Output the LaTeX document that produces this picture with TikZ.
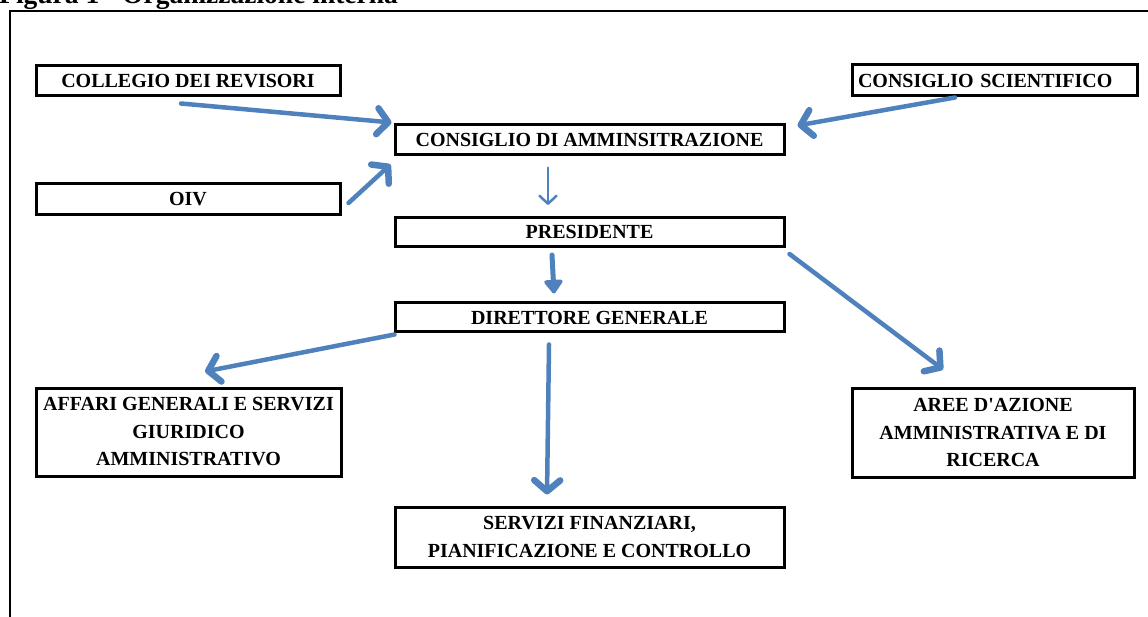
\documentclass[tikz,border=0pt]{standalone}
\usepackage{fontspec}
\setmainfont{Liberation Serif}
\usetikzlibrary{arrows.meta,calc}
\definecolor{arrblue}{HTML}{4F81BD}
\tikzset{
  box/.style={draw=black, line width=3pt, inner sep=0pt, align=center,
    font=\fontsize{20}{27.5}\selectfont\bfseries},
  thick arrow/.style={draw=arrblue, line width=4.5pt, line cap=round,
    -{Straight Barb[length=11pt,width=26pt,line width=6.5pt,round]}},
  filled arrow/.style={draw=arrblue, line width=5pt, line cap=round,
    -{Triangle[length=15pt,width=21pt,round]}},
  thin arrow/.style={draw=arrblue, line width=2pt, line cap=round,
    -{Straight Barb[length=8pt,width=17pt,line width=2.5pt,round]}},
  frame/.style={draw=black, line width=2pt}
}
\begin{document}
\begin{tikzpicture}[x=1pt,y=-1pt]
\useasboundingbox (0,0) rectangle (1148,617);
% title (cut off at the top)
\node[anchor=base west, inner sep=0pt, font=\fontsize{27.5}{30}\selectfont\bfseries] (title) at (-1,4) {Figura 1 - Organizzazione interna};
% frame
\coordinate (fbl) at (10,625);
\coordinate (ftl) at (10,11);
\coordinate (ftr) at (1160,11);
\draw[frame] (fbl) -- (ftl) -- (ftr);
% boxes
\node[box, minimum width=304, minimum height=30] (col) at (188,81) {COLLEGIO DEI REVISORI};
\node[box, minimum width=285, minimum height=31, text width=273, align=left] (sci) at (994.5,80.5) {CONSIGLIO SCIENTIFICO};
\node[box, minimum width=389, minimum height=30] (cda) at (589.5,140) {CONSIGLIO DI AMMINSITRAZIONE};
\node[box, minimum width=304, minimum height=31] (oiv) at (188,199) {OIV};
\node[box, minimum width=389, minimum height=29] (pres) at (589.5,232) {PRESIDENTE};
\node[box, minimum width=389, minimum height=29] (dir) at (589.5,317.5) {DIRETTORE GENERALE};
\node[box, minimum width=305, minimum height=88] (aff) at (188.5,432) {AFFARI GENERALI E SERVIZI\\GIURIDICO\\AMMINISTRATIVO};
\node[box, minimum width=282, minimum height=89] (aree) at (993,432.5) {AREE D\textquotesingle AZIONE\\AMMINISTRATIVA E DI\\RICERCA};
\node[box, minimum width=389, minimum height=60] (serv) at (589.5,537) {SERVIZI FINANZIARI,\\PIANIFICAZIONE E CONTROLLO};
% connectors
\draw[thick arrow] ([shift={(-7,6)}]col.south) -- ([shift={(-2,-1)}]cda.north west);
\draw[thick arrow] ([shift={(-39.5,0)}]sci.south) -- ([shift={(12,2)}]cda.north east);
\draw[thick arrow] ([shift={(7,4)}]oiv.east) -- ([shift={(-3,8)}]cda.south west);
\draw[thin arrow] ([shift={(-41.5,11)}]cda.south) -- ([shift={(-41.5,-11)}]pres.north);
\draw[filled arrow] ([shift={(-37.5,7)}]pres.south) -- ([shift={(-35.5,-8)}]dir.north);
\draw[thick arrow] ([shift={(4,6)}]pres.south east) -- ([shift={(-50,-17)}]aree.north);
\draw[thick arrow] ([shift={(1,1)}]dir.south west) -- ([shift={(16.5,-15)}]aff.north);
\draw[thick arrow] ([shift={(-40.5,11)}]dir.south) -- ([shift={(-42.5,-11)}]serv.north);
\end{tikzpicture}
\end{document}
